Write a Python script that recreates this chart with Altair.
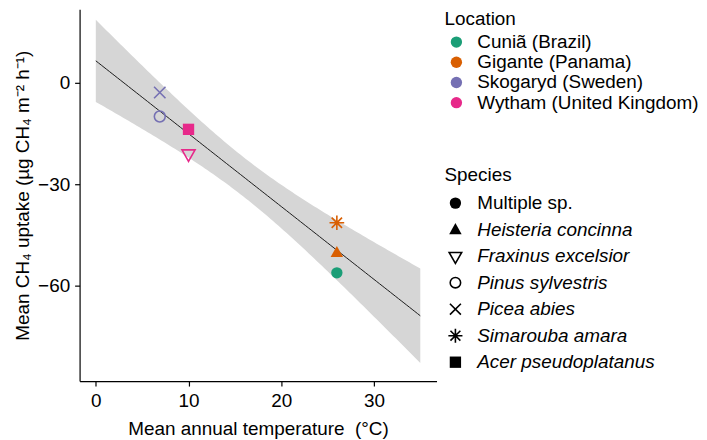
import altair as alt
import numpy as np
import pandas as pd

# ---- data ----
locations = ["Cuniã (Brazil)", "Gigante (Panama)", "Skogaryd (Sweden)", "Wytham (United Kingdom)"]
loc_colors = ["#1B9E77", "#D95F02", "#7570B3", "#E7298A"]

species = ["Multiple sp.", "Heisteria concinna", "Fraxinus excelsior", "Pinus sylvestris",
           "Picea abies", "Simarouba amara", "Acer pseudoplatanus"]
species_filled = [True, True, False, False, False, False, True]
species_italic = [False, True, True, True, True, True, True]
legend_titles = ["Location", "Species"]

X_PATH = "M-1.05,-1.05L1.05,1.05M-1.05,1.05L1.05,-1.05"
AST_PATH = "M0,-1.35L0,1.35M-1.35,0L1.35,0M-0.95,-0.95L0.95,0.95M-0.95,0.95L0.95,-0.95"
TRI_DOWN = "M-1.2,-0.7L1.2,-0.7L0,1.4Z"
TRI_UP = "M0,-1.15L1.1,0.8L-1.1,0.8Z"
species_shapes = ["circle", TRI_UP, TRI_DOWN, "circle", X_PATH, AST_PATH, "square"]

pt_location = ["Skogaryd (Sweden)", "Skogaryd (Sweden)", "Wytham (United Kingdom)",
               "Wytham (United Kingdom)", "Gigante (Panama)", "Gigante (Panama)", "Cuniã (Brazil)"]
pt_species = ["Picea abies", "Pinus sylvestris", "Acer pseudoplatanus", "Fraxinus excelsior",
              "Simarouba amara", "Heisteria concinna", "Multiple sp."]
pt_temp = [6.9, 6.9, 10.0, 10.0, 26.0, 26.0, 26.0]
pt_uptake = [-2.9, -10.0, -13.8, -21.0, -41.4, -50.2, -56.2]

x_ticks = [0, 10, 20, 30]
y_ticks = [-60, -30, 0]

FONT = "Liberation Sans"
FS = 19

pts = pd.DataFrame({"Location": pt_location, "Species": pt_species,
                    "temp": pt_temp, "uptake": pt_uptake})
pts["filled"] = pts["Species"].map(dict(zip(species, species_filled)))

# ---- linear fit with 95% confidence band (as geom_smooth(method="lm")) ----
xa = np.array(pt_temp); ya = np.array(pt_uptake)
n = len(xa)
b, a = np.polyfit(xa, ya, 1)
resid = ya - (a + b * xa)
s = np.sqrt((resid ** 2).sum() / (n - 2))
sxx = ((xa - xa.mean()) ** 2).sum()
t975 = 2.570582  # t quantile, df = 5
grid = np.linspace(0, 35, 120)
fit = a + b * grid
se = s * np.sqrt(1 / n + (grid - xa.mean()) ** 2 / sxx)
band = pd.DataFrame({"temp": grid, "fit": fit, "lo": fit - t975 * se, "hi": fit + t975 * se})

xscale = alt.Scale(domain=[-1.75, 36.75], nice=False, zero=False)
yscale = alt.Scale(domain=[-88.2, 21.7], nice=False, zero=False)
cscale = alt.Scale(domain=locations, range=loc_colors)
sscale = alt.Scale(domain=species, range=species_shapes)

common_axis = dict(grid=False, domainColor="black", tickColor="black", tickSize=5,
                   labelFontSize=FS, titleFontSize=FS, labelColor="black", titleColor="black",
                   titleFontWeight="normal", labelFont=FONT, titleFont=FONT,
                   domainWidth=1.2, tickWidth=1.2)
xaxis = alt.Axis(values=x_ticks, title="Mean annual temperature\u00a0 (°C)",
                 labelPadding=6, titlePadding=9, **common_axis)
yaxis = alt.Axis(values=y_ticks, title="Mean CH₄ uptake (µg CH₄ m⁻² h⁻¹)",
                 labelExpr="replace(datum.label, '-', '−')",
                 labelPadding=5, titlePadding=5, **common_axis)

ribbon = alt.Chart(band).mark_area(color="#D6D6D6").encode(
    x=alt.X("temp:Q", scale=xscale, axis=xaxis),
    y=alt.Y("lo:Q", scale=yscale, axis=yaxis),
    y2="hi:Q",
)
line = alt.Chart(band).mark_line(color="#1a1a1a", strokeWidth=1).encode(
    x=alt.X("temp:Q", scale=xscale),
    y=alt.Y("fit:Q", scale=yscale),
)
filled_pts = alt.Chart(pts).transform_filter("datum.filled").mark_point(
    filled=True, size=130, opacity=1).encode(
    x=alt.X("temp:Q", scale=xscale),
    y=alt.Y("uptake:Q", scale=yscale),
    color=alt.Color("Location:N", scale=cscale, legend=None),
    shape=alt.Shape("Species:N", scale=sscale, legend=None),
)
open_pts = alt.Chart(pts).transform_filter("!datum.filled").mark_point(
    filled=False, size=120, opacity=1, strokeWidth=1.6).encode(
    x=alt.X("temp:Q", scale=xscale),
    y=alt.Y("uptake:Q", scale=yscale),
    color=alt.Color("Location:N", scale=cscale, legend=None),
    shape=alt.Shape("Species:N", scale=sscale, legend=None),
)
main = alt.layer(ribbon, line, filled_pts, open_pts).properties(width=359, height=374)

# ---- legends drawn as one side panel ----
loc_df = pd.DataFrame({"Location": locations})
sp_df = pd.DataFrame({"Species": species, "filled": species_filled, "italic": species_italic})
ttl_df = pd.DataFrame({"title": legend_titles})

loc_y = alt.Y("Location:N", sort=locations, axis=None,
              scale=alt.Scale(domain=locations, range=[33, 94], padding=0))
sp_y = alt.Y("Species:N", sort=species, axis=None,
             scale=alt.Scale(domain=species, range=[195, 355], padding=0))
ttl_y = alt.Y("title:N", sort=legend_titles, axis=None,
              scale=alt.Scale(domain=legend_titles, range=[10, 167], padding=0))

txt = dict(align="left", baseline="middle", font=FONT, fontSize=FS, color="black")

legend_panel = alt.layer(
    alt.Chart(ttl_df).mark_text(**txt).encode(x=alt.value(0), y=ttl_y, text="title:N"),
    alt.Chart(loc_df).mark_point(filled=True, size=130, opacity=1).encode(
        x=alt.value(12), y=loc_y,
        color=alt.Color("Location:N", scale=cscale, legend=None)),
    alt.Chart(loc_df).mark_text(**txt).encode(x=alt.value(33), y=loc_y, text="Location:N"),
    alt.Chart(sp_df).transform_filter("datum.filled").mark_point(
        filled=True, size=130, opacity=1, color="black").encode(
        x=alt.value(11), y=sp_y,
        shape=alt.Shape("Species:N", scale=sscale, legend=None)),
    alt.Chart(sp_df).transform_filter("!datum.filled").mark_point(
        filled=False, size=110, opacity=1, color="black", strokeWidth=1.6).encode(
        x=alt.value(11), y=sp_y,
        shape=alt.Shape("Species:N", scale=sscale, legend=None)),
    alt.Chart(sp_df).transform_filter("datum.italic").mark_text(
        fontStyle="italic", **txt).encode(x=alt.value(33), y=sp_y, text="Species:N"),
    alt.Chart(sp_df).transform_filter("!datum.italic").mark_text(**txt).encode(
        x=alt.value(33), y=sp_y, text="Species:N"),
).resolve_scale(y="independent").properties(width=252, height=374)

chart = alt.hconcat(main, legend_panel, spacing=8).properties(
    padding={"left": 5, "top": 0, "right": 0, "bottom": 0}
).configure_view(stroke=None).configure_axis(labelFont=FONT, titleFont=FONT)

chart.save("out.html", embed_options={"renderer": "svg", "actions": False})
